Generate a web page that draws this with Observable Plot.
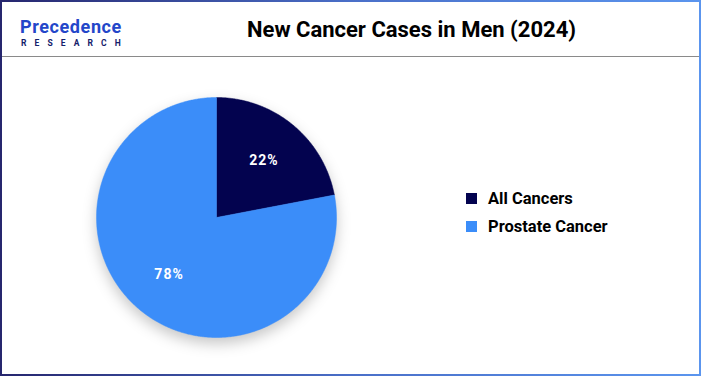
<!DOCTYPE html>
<html>
<head>
<meta charset="utf-8">
<script src="https://cdn.jsdelivr.net/npm/d3@7"></script>
<script src="https://cdn.jsdelivr.net/npm/@observablehq/plot@0.6"></script>
<style>
  html, body { margin: 0; padding: 0; background: #fff; }
  #frame {
    position: relative; box-sizing: border-box; width: 701px; height: 376px;
    border: 2px solid; border-image: linear-gradient(to right, #26266e, #4a6fc8 50%, #5b95ee) 1;
    font-family: Roboto, "Liberation Sans", sans-serif; overflow: hidden;
  }
  #header { position: relative; height: 54px; border-bottom: 1px solid #8a8a8a; }
  #logo .p1 { position: absolute; left: 18px; top: 16px; line-height: 18px; font-family: Roboto, sans-serif; font-weight: bold; font-size: 18px; color: #2346c9; letter-spacing: 0.6px; white-space: nowrap; }
  #logo .p2 { position: absolute; left: 19px; top: 37px; line-height: 8.5px; font-family: Roboto, sans-serif; font-weight: bold; font-size: 8.5px; color: #14206a; letter-spacing: 8.1px; white-space: nowrap; }
  #title { position: absolute; left: 0; right: 0; top: 15px; text-align: center; padding-left: 122px; font-weight: bold; font-size: 22px; color: #000; }
  #chart { position: absolute; left: 0; top: 55px; }
  #chart g[aria-label="line"] { filter: drop-shadow(0px 6px 7px rgba(0,0,0,0.22)); }
  #chart g[aria-label="text"] { letter-spacing: 1px; }
  #legend { position: absolute; left: 464px; top: 182px; }
  .item { display: flex; align-items: center; height: 28px; font-weight: bold; font-size: 16.5px; color: #000; }
  .sw { width: 11px; height: 11px; margin-right: 11px; }
</style>
</head>
<body>
<div id="frame">
  <div id="header">
    <div id="logo"><div class="p1">Precedence</div><div class="p2">RESEARCH</div></div>
    <div id="title"></div>
  </div>
  <div id="chart"></div>
  <div id="legend"></div>
</div>
<script>
const title = "New Cancer Cases in Men (2024)";
const categories = ["All Cancers", "Prostate Cancer"];
const shares = [22, 78];
const colors = ["#03034f", "#3b8df9"];

document.getElementById("title").textContent = title;

const total = d3.sum(shares);
const pts = [];
const labels = [];
let cum = 0;
categories.forEach((name, i) => {
  const a0 = cum / total * 2 * Math.PI;
  cum += shares[i];
  const a1 = cum / total * 2 * Math.PI;
  pts.push({name, x: 0, y: 0});
  const n = Math.max(2, Math.ceil((a1 - a0) / (Math.PI / 360)));
  for (let k = 0; k <= n; k++) {
    const a = a0 + (a1 - a0) * k / n;
    pts.push({name, x: Math.sin(a), y: Math.cos(a)});
  }
  pts.push({name, x: 0, y: 0});
  const am = (a0 + a1) / 2;
  labels.push({name, x: 0.62 * Math.sin(am), y: 0.62 * Math.cos(am), text: shares[i] + "%"});
});

const W = 697, H = 317, cx = 214, cy = 160, R = 120;
const plot = Plot.plot({
  width: W, height: H,
  margin: 0,
  x: {domain: [-cx / R, (W - cx) / R], axis: null},
  y: {domain: [-(H - cy) / R, cy / R], axis: null},
  color: {domain: categories, range: colors},
  marks: [
    Plot.line(pts, {x: "x", y: "y", z: "name", fill: "name", stroke: "name", strokeWidth: 0.5, curve: "linear"}),
    Plot.text(labels, {x: "x", y: "y", text: "text", fill: "white", fontSize: 14, fontWeight: "bold"})
  ]
});
plot.style.fontFamily = "Roboto, sans-serif";
document.getElementById("chart").appendChild(plot);

const legend = document.getElementById("legend");
categories.forEach((name, i) => {
  const item = document.createElement("div");
  item.className = "item";
  const sw = document.createElement("span");
  sw.className = "sw";
  sw.style.background = colors[i];
  const t = document.createElement("span");
  t.textContent = name;
  item.appendChild(sw);
  item.appendChild(t);
  legend.appendChild(item);
});
</script>
</body>
</html>
